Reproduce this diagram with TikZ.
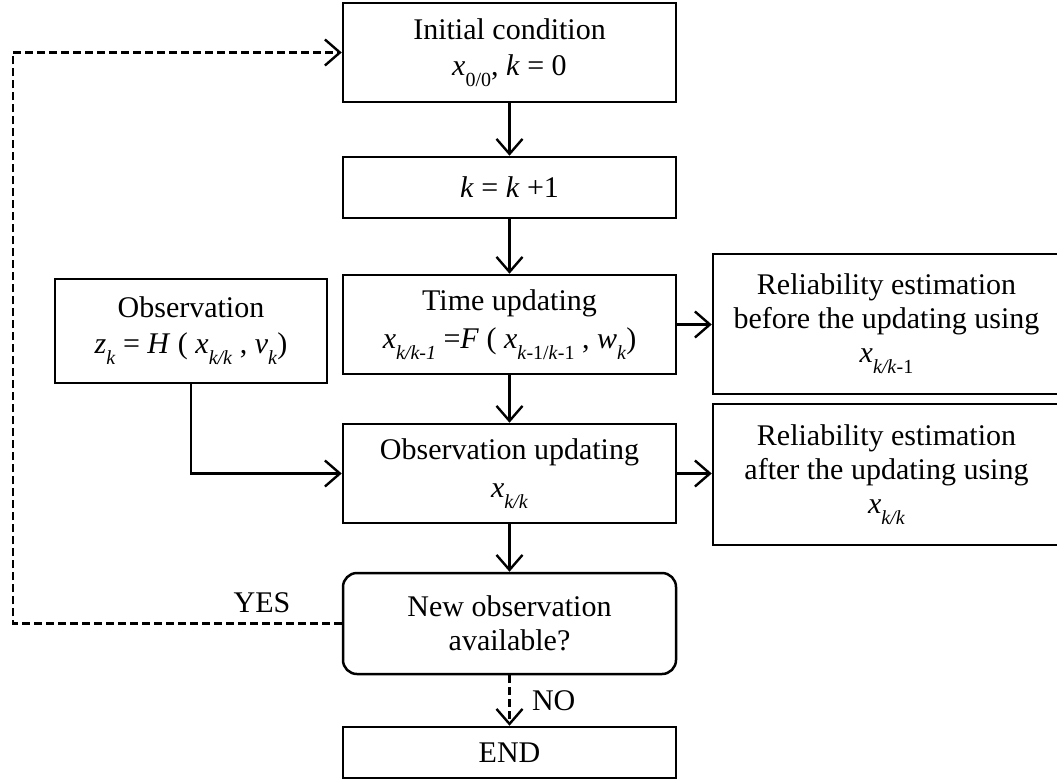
\documentclass[tikz,border=0pt]{standalone}
\usepackage{fontspec}
\setmainfont{Liberation Serif}
\usetikzlibrary{arrows.meta}
\newcommand\sbs[1]{\raisebox{-11pt}{\fontsize{20}{20}\selectfont #1}}
\begin{document}
\begin{tikzpicture}[x=1pt,y=-1pt,
  font=\fontsize{30}{34}\selectfont,
  box/.style={draw,line width=2.5pt,inner sep=0pt,align=center,minimum width=333pt},
  arr/.style={line width=2.4pt,-{Straight Barb[length=15pt,width=26pt,line width=2.4pt]}},
  dsh/.style={dash pattern=on 8pt off 4pt}]
\useasboundingbox (0,0) rectangle (1057,782);
\node[box,minimum height=99pt] (init) at (509.5,52.5) {Initial condition\\[2pt]\textit{x}\sbs{0/0}, \textit{k} = 0};
\node[box,minimum height=61pt] (kk) at (509.5,187.5) {\textit{k} = \textit{k} +1};
\node[box,minimum height=99pt] (time) at (509.5,324.5) {Time updating\\[4pt]\textit{x}\sbs{\textit{k/k-1}} =\textit{F} ( \textit{x}\sbs{\textit{k}-1/\textit{k}-1} , \textit{w}\sbs{\textit{k}})};
\node[box,minimum width=272pt,minimum height=104pt] (obs) at (191,331) {Observation\\[2pt]\textit{z}\sbs{\textit{k}} = \textit{H} ( \textit{x}\sbs{\textit{k/k}} , \textit{v}\sbs{\textit{k}})};
\node[box,minimum width=347pt,minimum height=140pt] (rel1) at (886.5,324) {Reliability estimation\\before the updating using\\[0pt]\textit{x}\sbs{\textit{k/k}-1}};
\node[box,minimum height=99pt] (obsup) at (509.5,473.5) {Observation updating\\[4pt]\textit{x}\sbs{\textit{k/k}}};
\node[box,minimum width=347pt,minimum height=141pt] (rel2) at (886.5,474.5) {Reliability estimation\\after the updating using\\[0pt]\textit{x}\sbs{\textit{k/k}}};
\node[box,minimum height=101pt,rounded corners=14pt] (newobs) at (509.5,623.5) {New observation\\available?};
\node[box,minimum height=51pt] (endn) at (509.5,752.5) {END};
\coordinate (lb) at (13,623.5);
\draw[arr] (init.south) -- (kk.north);
\draw[arr] (kk.south) -- (time.north);
\draw[arr] (time.south) -- (obsup.north);
\draw[arr] (obsup.south) -- (newobs.north);
\draw[arr,dsh] (newobs.south) -- node[right=18pt,pos=0.5] (nolab) {NO} (endn.north);
\draw[arr] (time.east) -- (time.east -| rel1.west);
\draw[arr] (obsup.east) -- (obsup.east -| rel2.west);
\draw[arr] (obs.south) |- (obsup.west);
\draw[arr,dsh] (newobs.west) -- (lb) |- (init.west);
\node (yes) at (262,603) {YES};
\end{tikzpicture}
\end{document}
